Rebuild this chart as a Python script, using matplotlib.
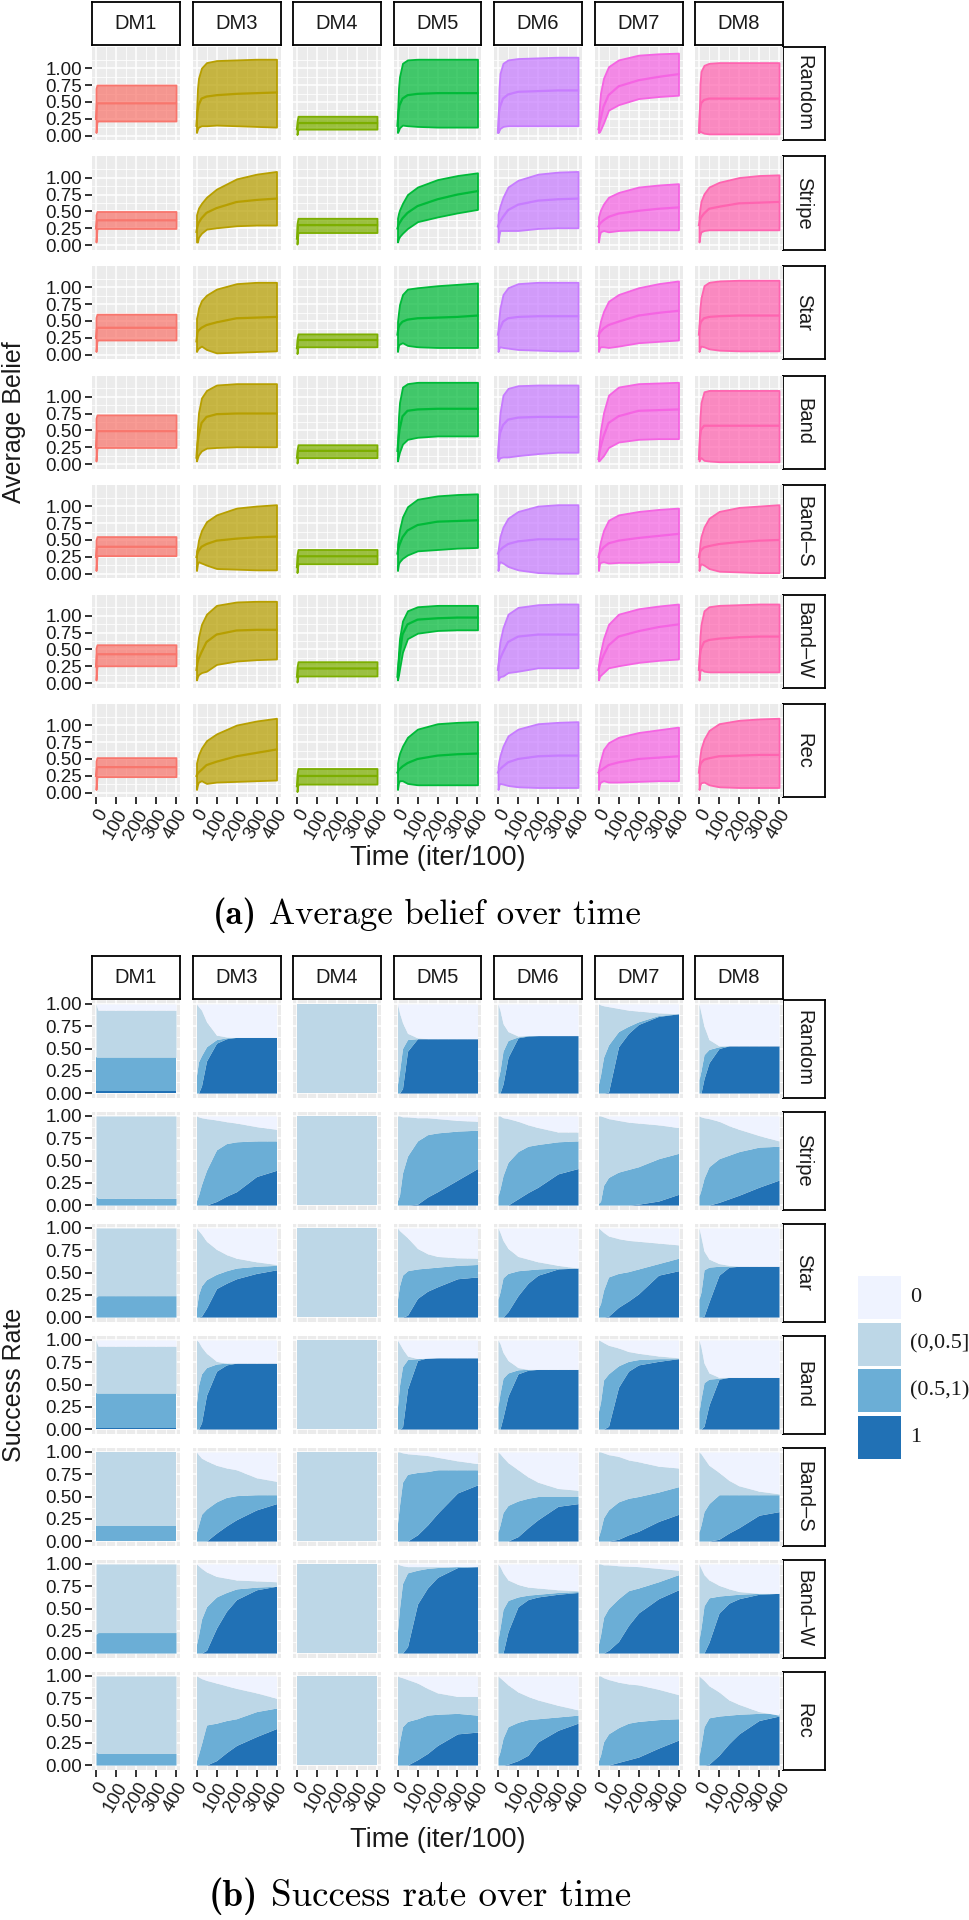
import matplotlib.pyplot as plt
from matplotlib.colors import to_rgba
from matplotlib.patches import Rectangle
from matplotlib.ticker import FixedLocator

plt.rcParams['font.family'] = ['Liberation Sans', 'DejaVu Sans']

dms = ['DM1', 'DM3', 'DM4', 'DM5', 'DM6', 'DM7', 'DM8']
topologies = ['Random', 'Stripe', 'Star', 'Band', 'Band\u2013S', 'Band\u2013W', 'Rec']
dm_colors = ['#F8766D', '#B79F00', '#7CAE00', '#00BA38', '#C77CFF', '#F564E3', '#FF64B0']

# ---- (a) average belief: lower / mean / upper per topology row ----
belief_times = [0, 5, 10, 25, 50, 100, 200, 300, 400]

dm1_lo = [[0.05, 0.22, 0.22, 0.22, 0.22, 0.22, 0.22, 0.22, 0.22],
          [0.05, 0.25, 0.25, 0.25, 0.25, 0.25, 0.25, 0.25, 0.25],
          [0.05, 0.22, 0.22, 0.22, 0.22, 0.22, 0.22, 0.22, 0.22],
          [0.05, 0.25, 0.25, 0.25, 0.25, 0.25, 0.25, 0.25, 0.25],
          [0.05, 0.27, 0.27, 0.27, 0.27, 0.27, 0.27, 0.27, 0.27],
          [0.05, 0.26, 0.26, 0.26, 0.26, 0.26, 0.26, 0.26, 0.26],
          [0.05, 0.24, 0.24, 0.24, 0.24, 0.24, 0.24, 0.24, 0.24]]
dm1_mean = [[0.25, 0.48, 0.48, 0.48, 0.48, 0.48, 0.48, 0.48, 0.48],
            [0.25, 0.37, 0.37, 0.37, 0.37, 0.37, 0.37, 0.37, 0.37],
            [0.25, 0.40, 0.40, 0.40, 0.40, 0.40, 0.40, 0.40, 0.40],
            [0.25, 0.49, 0.49, 0.49, 0.49, 0.49, 0.49, 0.49, 0.49],
            [0.25, 0.40, 0.40, 0.40, 0.40, 0.40, 0.40, 0.40, 0.40],
            [0.25, 0.43, 0.43, 0.43, 0.43, 0.43, 0.43, 0.43, 0.43],
            [0.25, 0.38, 0.38, 0.38, 0.38, 0.38, 0.38, 0.38, 0.38]]
dm1_hi = [[0.70, 0.75, 0.75, 0.75, 0.75, 0.75, 0.75, 0.75, 0.75],
          [0.45, 0.50, 0.50, 0.50, 0.50, 0.50, 0.50, 0.50, 0.50],
          [0.55, 0.60, 0.60, 0.60, 0.60, 0.60, 0.60, 0.60, 0.60],
          [0.68, 0.73, 0.73, 0.73, 0.73, 0.73, 0.73, 0.73, 0.73],
          [0.50, 0.55, 0.55, 0.55, 0.55, 0.55, 0.55, 0.55, 0.55],
          [0.52, 0.57, 0.57, 0.57, 0.57, 0.57, 0.57, 0.57, 0.57],
          [0.47, 0.52, 0.52, 0.52, 0.52, 0.52, 0.52, 0.52, 0.52]]

dm3_lo = [[0.05, 0.10, 0.13, 0.15, 0.15, 0.16, 0.15, 0.14, 0.13],
          [0.05, 0.05, 0.12, 0.18, 0.24, 0.26, 0.29, 0.30, 0.30],
          [0.05, 0.08, 0.10, 0.13, 0.08, 0.03, 0.04, 0.05, 0.06],
          [0.05, 0.10, 0.14, 0.20, 0.24, 0.25, 0.26, 0.26, 0.26],
          [0.05, 0.15, 0.18, 0.16, 0.13, 0.08, 0.07, 0.06, 0.06],
          [0.05, 0.10, 0.13, 0.16, 0.18, 0.28, 0.33, 0.35, 0.36],
          [0.05, 0.12, 0.16, 0.18, 0.14, 0.16, 0.17, 0.18, 0.19]]
dm3_mean = [[0.15, 0.35, 0.45, 0.55, 0.58, 0.60, 0.62, 0.63, 0.64],
            [0.20, 0.28, 0.33, 0.40, 0.48, 0.55, 0.64, 0.67, 0.69],
            [0.20, 0.33, 0.36, 0.40, 0.44, 0.48, 0.54, 0.55, 0.56],
            [0.10, 0.30, 0.41, 0.61, 0.70, 0.74, 0.75, 0.75, 0.75],
            [0.25, 0.30, 0.34, 0.40, 0.44, 0.49, 0.52, 0.54, 0.55],
            [0.20, 0.30, 0.36, 0.46, 0.61, 0.72, 0.78, 0.79, 0.79],
            [0.25, 0.28, 0.30, 0.34, 0.41, 0.46, 0.54, 0.59, 0.64]]
dm3_hi = [[0.35, 0.70, 0.85, 1.00, 1.08, 1.11, 1.12, 1.13, 1.13],
          [0.45, 0.50, 0.55, 0.62, 0.71, 0.83, 0.98, 1.05, 1.09],
          [0.54, 0.60, 0.69, 0.80, 0.88, 0.97, 1.05, 1.07, 1.07],
          [0.15, 0.55, 0.76, 0.98, 1.09, 1.17, 1.19, 1.19, 1.19],
          [0.34, 0.40, 0.50, 0.64, 0.77, 0.87, 0.97, 1.00, 1.02],
          [0.41, 0.55, 0.68, 0.87, 1.02, 1.15, 1.20, 1.21, 1.21],
          [0.44, 0.50, 0.56, 0.66, 0.77, 0.87, 1.00, 1.06, 1.10]]

dm4_lo = [[0.02, 0.10, 0.10, 0.10, 0.10, 0.10, 0.10, 0.10, 0.10],
          [0.02, 0.19, 0.19, 0.19, 0.19, 0.19, 0.19, 0.19, 0.19],
          [0.02, 0.12, 0.12, 0.12, 0.12, 0.12, 0.12, 0.12, 0.12],
          [0.02, 0.10, 0.10, 0.10, 0.10, 0.10, 0.10, 0.10, 0.10],
          [0.02, 0.15, 0.15, 0.15, 0.15, 0.15, 0.15, 0.15, 0.15],
          [0.02, 0.11, 0.11, 0.11, 0.11, 0.11, 0.11, 0.11, 0.11],
          [0.02, 0.13, 0.13, 0.13, 0.13, 0.13, 0.13, 0.13, 0.13]]
dm4_mean = [[0.10, 0.19, 0.19, 0.19, 0.19, 0.19, 0.19, 0.19, 0.19],
            [0.10, 0.30, 0.30, 0.30, 0.30, 0.30, 0.30, 0.30, 0.30],
            [0.10, 0.22, 0.22, 0.22, 0.22, 0.22, 0.22, 0.22, 0.22],
            [0.10, 0.20, 0.20, 0.20, 0.20, 0.20, 0.20, 0.20, 0.20],
            [0.10, 0.26, 0.26, 0.26, 0.26, 0.26, 0.26, 0.26, 0.26],
            [0.10, 0.22, 0.22, 0.22, 0.22, 0.22, 0.22, 0.22, 0.22],
            [0.10, 0.25, 0.25, 0.25, 0.25, 0.25, 0.25, 0.25, 0.25]]
dm4_hi = [[0.21, 0.29, 0.29, 0.29, 0.29, 0.29, 0.29, 0.29, 0.29],
          [0.32, 0.40, 0.40, 0.40, 0.40, 0.40, 0.40, 0.40, 0.40],
          [0.23, 0.31, 0.31, 0.31, 0.31, 0.31, 0.31, 0.31, 0.31],
          [0.21, 0.29, 0.29, 0.29, 0.29, 0.29, 0.29, 0.29, 0.29],
          [0.28, 0.36, 0.36, 0.36, 0.36, 0.36, 0.36, 0.36, 0.36],
          [0.24, 0.32, 0.32, 0.32, 0.32, 0.32, 0.32, 0.32, 0.32],
          [0.28, 0.36, 0.36, 0.36, 0.36, 0.36, 0.36, 0.36, 0.36]]

dm5_lo = [[0.05, 0.08, 0.12, 0.16, 0.15, 0.14, 0.13, 0.13, 0.13],
          [0.05, 0.10, 0.13, 0.18, 0.25, 0.35, 0.42, 0.48, 0.53],
          [0.05, 0.14, 0.16, 0.18, 0.14, 0.12, 0.11, 0.11, 0.11],
          [0.05, 0.12, 0.18, 0.30, 0.37, 0.40, 0.42, 0.42, 0.42],
          [0.05, 0.15, 0.18, 0.23, 0.28, 0.34, 0.36, 0.38, 0.39],
          [0.05, 0.12, 0.21, 0.46, 0.66, 0.74, 0.78, 0.79, 0.79],
          [0.05, 0.15, 0.18, 0.18, 0.14, 0.12, 0.12, 0.12, 0.12]]
dm5_mean = [[0.15, 0.35, 0.45, 0.55, 0.60, 0.62, 0.63, 0.63, 0.63],
            [0.25, 0.30, 0.33, 0.40, 0.48, 0.58, 0.68, 0.75, 0.80],
            [0.30, 0.40, 0.44, 0.49, 0.52, 0.54, 0.55, 0.56, 0.58],
            [0.20, 0.38, 0.51, 0.71, 0.79, 0.81, 0.82, 0.82, 0.82],
            [0.30, 0.38, 0.43, 0.54, 0.64, 0.72, 0.77, 0.78, 0.79],
            [0.10, 0.28, 0.41, 0.72, 0.87, 0.94, 0.96, 0.97, 0.97],
            [0.30, 0.33, 0.35, 0.39, 0.44, 0.50, 0.55, 0.57, 0.58]]
dm5_hi = [[0.30, 0.70, 0.87, 1.07, 1.12, 1.13, 1.13, 1.13, 1.13],
          [0.40, 0.47, 0.52, 0.62, 0.75, 0.86, 0.97, 1.03, 1.07],
          [0.49, 0.62, 0.74, 0.89, 0.97, 0.99, 1.02, 1.04, 1.06],
          [0.30, 0.70, 0.91, 1.14, 1.19, 1.21, 1.21, 1.21, 1.21],
          [0.44, 0.55, 0.65, 0.84, 0.99, 1.10, 1.15, 1.17, 1.18],
          [0.16, 0.45, 0.66, 0.92, 1.07, 1.13, 1.15, 1.15, 1.15],
          [0.44, 0.52, 0.58, 0.69, 0.82, 0.94, 1.02, 1.04, 1.05]]

dm6_lo = [[0.05, 0.08, 0.11, 0.14, 0.15, 0.15, 0.15, 0.15, 0.15],
          [0.05, 0.15, 0.22, 0.22, 0.22, 0.22, 0.25, 0.26, 0.26],
          [0.05, 0.10, 0.12, 0.11, 0.10, 0.08, 0.07, 0.06, 0.06],
          [0.05, 0.08, 0.10, 0.11, 0.11, 0.13, 0.16, 0.18, 0.18],
          [0.05, 0.15, 0.18, 0.16, 0.11, 0.06, 0.02, 0.01, 0.01],
          [0.05, 0.08, 0.10, 0.11, 0.16, 0.18, 0.23, 0.23, 0.23],
          [0.05, 0.12, 0.14, 0.13, 0.11, 0.09, 0.08, 0.08, 0.08]]
dm6_mean = [[0.05, 0.35, 0.43, 0.55, 0.61, 0.65, 0.66, 0.67, 0.67],
            [0.28, 0.32, 0.35, 0.42, 0.52, 0.60, 0.66, 0.68, 0.69],
            [0.30, 0.36, 0.39, 0.49, 0.54, 0.56, 0.57, 0.57, 0.57],
            [0.10, 0.35, 0.46, 0.58, 0.66, 0.69, 0.70, 0.70, 0.70],
            [0.30, 0.33, 0.35, 0.39, 0.44, 0.48, 0.51, 0.51, 0.51],
            [0.20, 0.30, 0.36, 0.46, 0.61, 0.69, 0.72, 0.72, 0.72],
            [0.30, 0.33, 0.35, 0.39, 0.45, 0.50, 0.54, 0.55, 0.55]]
dm6_hi = [[0.05, 0.70, 0.92, 1.07, 1.12, 1.14, 1.15, 1.16, 1.16],
          [0.46, 0.52, 0.58, 0.71, 0.86, 0.96, 1.05, 1.08, 1.09],
          [0.39, 0.55, 0.69, 0.89, 0.99, 1.05, 1.07, 1.07, 1.07],
          [0.15, 0.55, 0.76, 1.02, 1.12, 1.16, 1.17, 1.17, 1.17],
          [0.34, 0.45, 0.55, 0.69, 0.82, 0.92, 1.00, 1.02, 1.02],
          [0.26, 0.50, 0.62, 0.82, 1.02, 1.12, 1.16, 1.17, 1.17],
          [0.39, 0.48, 0.55, 0.69, 0.84, 0.94, 1.02, 1.04, 1.05]]

dm7_lo = [[0.05, 0.06, 0.09, 0.19, 0.38, 0.46, 0.55, 0.58, 0.60],
          [0.05, 0.15, 0.20, 0.22, 0.20, 0.22, 0.23, 0.23, 0.23],
          [0.05, 0.10, 0.12, 0.12, 0.11, 0.13, 0.18, 0.20, 0.22],
          [0.05, 0.06, 0.08, 0.13, 0.25, 0.33, 0.37, 0.38, 0.38],
          [0.05, 0.15, 0.17, 0.18, 0.16, 0.17, 0.17, 0.18, 0.18],
          [0.05, 0.10, 0.12, 0.16, 0.23, 0.26, 0.31, 0.34, 0.36],
          [0.05, 0.13, 0.16, 0.18, 0.16, 0.16, 0.17, 0.18, 0.18]]
dm7_mean = [[0.10, 0.18, 0.24, 0.43, 0.60, 0.73, 0.82, 0.87, 0.91],
            [0.28, 0.31, 0.33, 0.37, 0.42, 0.47, 0.51, 0.54, 0.56],
            [0.28, 0.32, 0.34, 0.39, 0.44, 0.49, 0.58, 0.62, 0.65],
            [0.08, 0.18, 0.25, 0.41, 0.61, 0.71, 0.79, 0.80, 0.81],
            [0.25, 0.30, 0.33, 0.39, 0.45, 0.49, 0.53, 0.56, 0.59],
            [0.20, 0.26, 0.30, 0.41, 0.56, 0.69, 0.77, 0.83, 0.87],
            [0.30, 0.32, 0.33, 0.36, 0.41, 0.45, 0.50, 0.52, 0.54]]
dm7_hi = [[0.19, 0.45, 0.63, 0.85, 1.02, 1.12, 1.19, 1.21, 1.22],
          [0.42, 0.47, 0.52, 0.61, 0.71, 0.78, 0.86, 0.89, 0.91],
          [0.34, 0.42, 0.50, 0.64, 0.79, 0.89, 0.99, 1.05, 1.09],
          [0.10, 0.35, 0.50, 0.76, 1.02, 1.14, 1.19, 1.20, 1.21],
          [0.28, 0.40, 0.48, 0.64, 0.79, 0.87, 0.92, 0.95, 0.97],
          [0.26, 0.38, 0.46, 0.66, 0.87, 1.02, 1.10, 1.14, 1.17],
          [0.34, 0.42, 0.48, 0.64, 0.74, 0.82, 0.89, 0.93, 0.97]]

dm8_lo = [[0.05, 0.07, 0.06, 0.04, 0.03, 0.03, 0.03, 0.03, 0.03],
          [0.05, 0.15, 0.20, 0.22, 0.23, 0.23, 0.23, 0.23, 0.23],
          [0.05, 0.10, 0.13, 0.12, 0.09, 0.07, 0.06, 0.06, 0.06],
          [0.05, 0.08, 0.10, 0.06, 0.05, 0.04, 0.04, 0.04, 0.04],
          [0.05, 0.12, 0.15, 0.13, 0.08, 0.04, 0.03, 0.02, 0.02],
          [0.05, 0.18, 0.21, 0.18, 0.17, 0.17, 0.17, 0.17, 0.17],
          [0.05, 0.12, 0.15, 0.16, 0.12, 0.09, 0.08, 0.08, 0.08]]
dm8_mean = [[0.05, 0.38, 0.48, 0.53, 0.55, 0.55, 0.55, 0.55, 0.55],
            [0.30, 0.37, 0.41, 0.47, 0.54, 0.57, 0.62, 0.63, 0.64],
            [0.30, 0.44, 0.49, 0.54, 0.56, 0.57, 0.58, 0.58, 0.58],
            [0.08, 0.40, 0.51, 0.57, 0.57, 0.57, 0.57, 0.57, 0.57],
            [0.25, 0.32, 0.35, 0.39, 0.41, 0.44, 0.47, 0.49, 0.50],
            [0.20, 0.42, 0.51, 0.61, 0.64, 0.66, 0.68, 0.69, 0.69],
            [0.30, 0.40, 0.44, 0.49, 0.51, 0.54, 0.55, 0.56, 0.56]]
dm8_hi = [[0.06, 0.77, 0.95, 1.04, 1.07, 1.08, 1.08, 1.08, 1.08],
          [0.42, 0.55, 0.65, 0.76, 0.86, 0.93, 1.00, 1.03, 1.04],
          [0.44, 0.70, 0.84, 1.02, 1.07, 1.09, 1.10, 1.10, 1.10],
          [0.10, 0.70, 0.91, 1.07, 1.09, 1.09, 1.09, 1.09, 1.09],
          [0.28, 0.45, 0.55, 0.69, 0.82, 0.92, 0.98, 1.00, 1.02],
          [0.26, 0.70, 0.87, 1.07, 1.13, 1.15, 1.16, 1.17, 1.17],
          [0.39, 0.55, 0.65, 0.79, 0.92, 1.02, 1.07, 1.09, 1.10]]

belief_lo = [dm1_lo, dm3_lo, dm4_lo, dm5_lo, dm6_lo, dm7_lo, dm8_lo]
belief_mean = [dm1_mean, dm3_mean, dm4_mean, dm5_mean, dm6_mean, dm7_mean, dm8_mean]
belief_hi = [dm1_hi, dm3_hi, dm4_hi, dm5_hi, dm6_hi, dm7_hi, dm8_hi]

# ---- (b) success rate: cumulative tops of "1", "(0.5,1)", "(0,0.5]" ----
success_times = [0, 10, 25, 50, 100, 150, 200, 300, 400]
success_labels = ['0', '(0,0.5]', '(0.5,1)', '1']
success_colors = ['#EFF3FF', '#BDD7E7', '#6BAED6', '#2171B5']

dm1_c1 = [[0.02] * 9, [0.0] * 9, [0.0] * 9, [0.01] * 9, [0.0] * 9, [0.0] * 9, [0.0] * 9]
dm1_c2 = [[0.40] * 9,
          [0.10, 0.075, 0.075, 0.075, 0.075, 0.075, 0.075, 0.075, 0.075],
          [0.22, 0.24, 0.24, 0.24, 0.24, 0.24, 0.24, 0.24, 0.24],
          [0.40] * 9,
          [0.17] * 9,
          [0.21, 0.23, 0.23, 0.23, 0.23, 0.23, 0.23, 0.23, 0.23],
          [0.15, 0.13, 0.13, 0.13, 0.13, 0.13, 0.13, 0.13, 0.13]]
dm1_c3 = [[1.0, 0.93, 0.93, 0.93, 0.93, 0.93, 0.93, 0.93, 0.93],
          [1.0] * 9, [1.0] * 9,
          [1.0, 0.93, 0.93, 0.93, 0.93, 0.93, 0.93, 0.93, 0.93],
          [1.0] * 9, [1.0] * 9, [1.0] * 9]

dm3_c1 = [[0, 0, 0.08, 0.36, 0.56, 0.61, 0.625, 0.625, 0.625],
          [0, 0, 0, 0, 0.04, 0.10, 0.15, 0.32, 0.39],
          [0, 0, 0.01, 0.10, 0.32, 0.38, 0.43, 0.49, 0.53],
          [0, 0, 0.07, 0.38, 0.65, 0.72, 0.74, 0.74, 0.74],
          [0, 0, 0, 0, 0.09, 0.17, 0.24, 0.35, 0.42],
          [0, 0, 0, 0.03, 0.28, 0.47, 0.60, 0.71, 0.75],
          [0, 0, 0, 0, 0.05, 0.14, 0.22, 0.32, 0.41]]
dm3_c2 = [[0.20, 0.35, 0.42, 0.52, 0.60, 0.62, 0.625, 0.625, 0.625],
          [0.05, 0.11, 0.23, 0.39, 0.62, 0.69, 0.71, 0.72, 0.72],
          [0.10, 0.25, 0.35, 0.42, 0.48, 0.52, 0.55, 0.57, 0.58],
          [0.30, 0.49, 0.62, 0.69, 0.73, 0.74, 0.74, 0.74, 0.74],
          [0.10, 0.18, 0.30, 0.36, 0.44, 0.49, 0.51, 0.52, 0.52],
          [0.10, 0.20, 0.38, 0.52, 0.63, 0.68, 0.72, 0.74, 0.75],
          [0.05, 0.12, 0.24, 0.45, 0.47, 0.50, 0.52, 0.60, 0.64]]
dm3_c3 = [[1.0, 0.97, 0.93, 0.80, 0.65, 0.63, 0.625, 0.625, 0.625],
          [1.0, 0.99, 0.98, 0.97, 0.955, 0.935, 0.92, 0.88, 0.85],
          [1.0, 0.97, 0.93, 0.85, 0.76, 0.70, 0.66, 0.62, 0.59],
          [1.0, 0.98, 0.92, 0.85, 0.76, 0.74, 0.74, 0.74, 0.74],
          [1.0, 0.97, 0.93, 0.90, 0.85, 0.82, 0.80, 0.71, 0.67],
          [1.0, 0.98, 0.95, 0.91, 0.86, 0.84, 0.82, 0.81, 0.80],
          [1.0, 0.99, 0.97, 0.95, 0.92, 0.89, 0.86, 0.81, 0.75]]

dm4_c1 = [[0.0] * 9] * 7
dm4_c2 = [[0.0] * 9] * 7
dm4_c3 = [[1.0] * 9] * 7

dm5_c1 = [[0, 0, 0.05, 0.47, 0.61, 0.61, 0.61, 0.61, 0.61],
          [0, 0, 0, 0, 0.01, 0.09, 0.15, 0.28, 0.41],
          [0, 0, 0, 0.02, 0.21, 0.29, 0.34, 0.43, 0.45],
          [0, 0, 0.02, 0.45, 0.77, 0.80, 0.80, 0.80, 0.80],
          [0, 0, 0, 0, 0.07, 0.18, 0.31, 0.54, 0.63],
          [0, 0, 0, 0.07, 0.55, 0.73, 0.85, 0.96, 0.97],
          [0, 0, 0, 0, 0.06, 0.13, 0.22, 0.35, 0.37]]
dm5_c2 = [[0.10, 0.24, 0.50, 0.60, 0.61, 0.61, 0.61, 0.61, 0.61],
          [0.05, 0.11, 0.36, 0.55, 0.72, 0.79, 0.81, 0.83, 0.84],
          [0.20, 0.35, 0.47, 0.52, 0.54, 0.55, 0.56, 0.58, 0.59],
          [0.25, 0.49, 0.70, 0.78, 0.79, 0.80, 0.80, 0.80, 0.80],
          [0.20, 0.40, 0.66, 0.75, 0.77, 0.78, 0.80, 0.80, 0.80],
          [0.25, 0.50, 0.78, 0.90, 0.93, 0.95, 0.96, 0.97, 0.97],
          [0.10, 0.26, 0.43, 0.49, 0.52, 0.56, 0.57, 0.58, 0.56]]
dm5_c3 = [[1.0, 0.90, 0.79, 0.67, 0.62, 0.61, 0.61, 0.61, 0.61],
          [1.0, 1.0, 0.99, 0.99, 0.98, 0.98, 0.97, 0.95, 0.94],
          [1.0, 0.97, 0.94, 0.89, 0.77, 0.71, 0.68, 0.665, 0.66],
          [1.0, 0.96, 0.90, 0.82, 0.79, 0.795, 0.80, 0.80, 0.80],
          [1.0, 1.0, 0.99, 0.98, 0.97, 0.96, 0.94, 0.90, 0.87],
          [1.0, 0.99, 0.98, 0.97, 0.97, 0.97, 0.97, 0.97, 0.97],
          [1.0, 0.99, 0.98, 0.96, 0.92, 0.86, 0.81, 0.77, 0.77]]

dm6_c1 = [[0, 0, 0.10, 0.40, 0.62, 0.64, 0.645, 0.645, 0.645],
          [0, 0, 0, 0, 0.07, 0.14, 0.20, 0.35, 0.41],
          [0, 0, 0, 0.06, 0.24, 0.38, 0.47, 0.54, 0.55],
          [0, 0, 0.13, 0.37, 0.62, 0.66, 0.67, 0.67, 0.67],
          [0, 0, 0, 0, 0.05, 0.15, 0.24, 0.39, 0.42],
          [0, 0, 0, 0.24, 0.52, 0.60, 0.63, 0.66, 0.68],
          [0, 0, 0, 0.01, 0.05, 0.11, 0.26, 0.39, 0.47]]
dm6_c2 = [[0.15, 0.25, 0.47, 0.59, 0.63, 0.645, 0.645, 0.645, 0.645],
          [0.10, 0.18, 0.33, 0.48, 0.60, 0.66, 0.68, 0.71, 0.72],
          [0.20, 0.28, 0.44, 0.49, 0.52, 0.53, 0.54, 0.55, 0.55],
          [0.25, 0.40, 0.57, 0.63, 0.665, 0.67, 0.67, 0.67, 0.67],
          [0.10, 0.18, 0.32, 0.40, 0.45, 0.48, 0.50, 0.50, 0.50],
          [0.15, 0.28, 0.49, 0.59, 0.63, 0.65, 0.66, 0.68, 0.69],
          [0.08, 0.15, 0.30, 0.43, 0.48, 0.51, 0.52, 0.54, 0.56]]
dm6_c3 = [[1.0, 0.93, 0.78, 0.69, 0.64, 0.645, 0.645, 0.645, 0.645],
          [1.0, 1.0, 0.98, 0.97, 0.94, 0.90, 0.87, 0.82, 0.82],
          [1.0, 0.95, 0.86, 0.77, 0.68, 0.65, 0.62, 0.58, 0.55],
          [1.0, 0.96, 0.86, 0.77, 0.69, 0.67, 0.67, 0.67, 0.67],
          [1.0, 0.98, 0.94, 0.88, 0.80, 0.72, 0.66, 0.59, 0.57],
          [1.0, 0.97, 0.90, 0.82, 0.77, 0.74, 0.73, 0.71, 0.70],
          [1.0, 0.98, 0.95, 0.90, 0.82, 0.77, 0.73, 0.67, 0.62]]

dm7_c1 = [[0, 0, 0, 0.01, 0.52, 0.67, 0.77, 0.86, 0.89],
          [0, 0, 0, 0, 0, 0, 0.01, 0.045, 0.12],
          [0, 0, 0, 0.01, 0.11, 0.18, 0.26, 0.47, 0.52],
          [0, 0, 0, 0.03, 0.47, 0.65, 0.72, 0.76, 0.79],
          [0, 0, 0, 0, 0.02, 0.07, 0.11, 0.22, 0.30],
          [0, 0, 0, 0.03, 0.13, 0.31, 0.45, 0.61, 0.71],
          [0, 0, 0, 0, 0.03, 0.06, 0.09, 0.19, 0.28]]
dm7_c2 = [[0.10, 0.20, 0.40, 0.54, 0.69, 0.75, 0.80, 0.87, 0.89],
          [0.02, 0.04, 0.22, 0.31, 0.37, 0.40, 0.43, 0.52, 0.58],
          [0.10, 0.15, 0.30, 0.45, 0.49, 0.51, 0.54, 0.60, 0.66],
          [0.20, 0.30, 0.55, 0.62, 0.71, 0.76, 0.78, 0.79, 0.79],
          [0.05, 0.12, 0.26, 0.35, 0.44, 0.48, 0.50, 0.55, 0.61],
          [0.10, 0.20, 0.40, 0.50, 0.61, 0.70, 0.73, 0.80, 0.88],
          [0.05, 0.11, 0.26, 0.35, 0.42, 0.47, 0.49, 0.51, 0.52]]
dm7_c3 = [[1.0, 0.99, 0.98, 0.97, 0.95, 0.93, 0.92, 0.90, 0.89],
          [1.0, 1.0, 0.99, 0.97, 0.95, 0.93, 0.92, 0.90, 0.87],
          [1.0, 0.98, 0.95, 0.91, 0.88, 0.86, 0.85, 0.83, 0.81],
          [1.0, 0.99, 0.97, 0.94, 0.91, 0.87, 0.85, 0.82, 0.80],
          [1.0, 1.0, 0.99, 0.97, 0.95, 0.91, 0.89, 0.84, 0.82],
          [1.0, 1.0, 0.99, 0.99, 0.98, 0.975, 0.97, 0.95, 0.93],
          [1.0, 1.0, 0.98, 0.96, 0.93, 0.91, 0.90, 0.85, 0.79]]

dm8_c1 = [[0, 0, 0.16, 0.34, 0.50, 0.53, 0.53, 0.53, 0.53],
          [0, 0, 0, 0, 0.03, 0.07, 0.11, 0.20, 0.28],
          [0, 0, 0.01, 0.17, 0.47, 0.56, 0.57, 0.57, 0.57],
          [0, 0, 0.03, 0.27, 0.56, 0.58, 0.58, 0.58, 0.58],
          [0, 0, 0, 0, 0.02, 0.09, 0.15, 0.29, 0.33],
          [0, 0, 0, 0.12, 0.45, 0.56, 0.61, 0.66, 0.67],
          [0, 0, 0, 0.01, 0.11, 0.24, 0.35, 0.50, 0.55]]
dm8_c2 = [[0.15, 0.25, 0.43, 0.49, 0.52, 0.53, 0.53, 0.53, 0.53],
          [0.10, 0.17, 0.30, 0.43, 0.52, 0.56, 0.60, 0.65, 0.66],
          [0.20, 0.28, 0.53, 0.56, 0.57, 0.57, 0.57, 0.57, 0.57],
          [0.20, 0.34, 0.52, 0.56, 0.57, 0.58, 0.58, 0.58, 0.58],
          [0.10, 0.18, 0.33, 0.42, 0.52, 0.52, 0.52, 0.52, 0.52],
          [0.15, 0.28, 0.53, 0.62, 0.64, 0.65, 0.66, 0.67, 0.67],
          [0.10, 0.22, 0.43, 0.53, 0.55, 0.56, 0.57, 0.58, 0.58]]
dm8_c3 = [[1.0, 0.90, 0.75, 0.60, 0.53, 0.53, 0.53, 0.53, 0.53],
          [1.0, 0.99, 0.98, 0.97, 0.94, 0.89, 0.85, 0.78, 0.72],
          [1.0, 0.90, 0.74, 0.65, 0.60, 0.58, 0.57, 0.57, 0.57],
          [1.0, 0.92, 0.74, 0.63, 0.58, 0.58, 0.58, 0.58, 0.58],
          [1.0, 0.98, 0.93, 0.85, 0.77, 0.68, 0.62, 0.56, 0.53],
          [1.0, 0.95, 0.88, 0.82, 0.76, 0.72, 0.69, 0.67, 0.67],
          [1.0, 0.98, 0.95, 0.89, 0.82, 0.73, 0.68, 0.60, 0.56]]

success_c1 = [dm1_c1, dm3_c1, dm4_c1, dm5_c1, dm6_c1, dm7_c1, dm8_c1]
success_c2 = [dm1_c2, dm3_c2, dm4_c2, dm5_c2, dm6_c2, dm7_c2, dm8_c2]
success_c3 = [dm1_c3, dm3_c3, dm4_c3, dm5_c3, dm6_c3, dm7_c3, dm8_c3]

# ---- layout (pixels) ----
W, H = 969, 1920
fig = plt.figure(figsize=(W / 100, H / 100), dpi=100)
col_x = [92 + j * 100.5 for j in range(7)]
pw = 88
TXT = '#1a1a1a'


def px_axes(x, y, w, h):
    return fig.add_axes([x / W, 1 - (y + h) / H, w / W, h / H])


def strip(x, y, w, h, text, rot=0):
    ax = px_axes(x, y, w, h)
    ax.set_xticks([])
    ax.set_yticks([])
    for s in ax.spines.values():
        s.set_linewidth(1.3)
        s.set_color('black')
    ax.text(0.5, 0.5, text, ha='center', va='center', rotation=rot,
            fontsize=14.5, color=TXT, transform=ax.transAxes)


def facet(x, y, h, ylim, ymajor, yminor, left, bottom):
    ax = px_axes(x, y, pw, h)
    ax.set_facecolor('#EBEBEB')
    ax.set_xlim(-20, 420)
    ax.set_ylim(*ylim)
    ax.xaxis.set_major_locator(FixedLocator([0, 100, 200, 300, 400]))
    ax.xaxis.set_minor_locator(FixedLocator([50, 150, 250, 350]))
    ax.yaxis.set_major_locator(FixedLocator(ymajor))
    ax.yaxis.set_minor_locator(FixedLocator(yminor))
    ax.grid(which='major', color='white', lw=1.1)
    ax.grid(which='minor', color='white', lw=0.55)
    ax.set_axisbelow(True)
    for s in ax.spines.values():
        s.set_visible(False)
    ax.tick_params(which='both', length=0, labelbottom=False, labelleft=False)
    if left:
        ax.tick_params(axis='y', which='major', length=5, width=1.4, color='#333333',
                       labelleft=True, labelsize=13.5, labelcolor=TXT, pad=2)
        ax.set_yticklabels(['%.2f' % v for v in ymajor])
    if bottom:
        ax.tick_params(axis='x', which='major', length=5, width=1.4, color='#333333',
                       labelbottom=True, labelsize=13.5, labelcolor=TXT, pad=2)
        ax.set_xticklabels(['0', '100', '200', '300', '400'], rotation=60,
                           ha='right', va='top', rotation_mode='anchor')
    return ax


ymaj = [0, 0.25, 0.5, 0.75, 1.0]

# (a) average belief
top_y0, top_pitch, top_h = 47, 109.5, 93
for j, dm in enumerate(dms):
    strip(col_x[j], 2, pw, 43, dm)
for i, topo in enumerate(topologies):
    y = top_y0 + i * top_pitch
    strip(783, y, 42, top_h, topo, rot=-90)
    for j in range(7):
        ax = facet(col_x[j], y, top_h, (-0.06, 1.31), ymaj,
                   [0.125, 0.375, 0.625, 0.875, 1.125], j == 0, i == 6)
        c = dm_colors[j]
        ax.fill_between(belief_times, belief_lo[j][i], belief_hi[j][i],
                        facecolor=to_rgba(c, 0.72), edgecolor=c, lw=1.3, zorder=2)
        ax.plot(belief_times, belief_mean[j][i], color=c, lw=1.6, zorder=3)

fig.text(14 / W, 1 - 422 / H, 'Average Belief', rotation=90, ha='center', va='center',
         fontsize=18, color=TXT)
fig.text(437.5 / W, 1 - 858 / H, 'Time (iter/100)', ha='center', va='center',
         fontsize=19.5, color=TXT)

# (b) success rate
bot_y0, bot_pitch, bot_h = 999.5, 112, 98
for j, dm in enumerate(dms):
    strip(col_x[j], 956, pw, 43, dm)
for i, topo in enumerate(topologies):
    y = bot_y0 + i * bot_pitch
    strip(783, y, 42, bot_h, topo, rot=-90)
    for j in range(7):
        ax = facet(col_x[j], y, bot_h, (-0.05, 1.05), ymaj,
                   [0.125, 0.375, 0.625, 0.875], j == 0, i == 6)
        c1, c2, c3 = success_c1[j][i], success_c2[j][i], success_c3[j][i]
        ax.fill_between(success_times, 0, c1, color=success_colors[3], lw=0, zorder=2)
        ax.fill_between(success_times, c1, c2, color=success_colors[2], lw=0, zorder=2)
        ax.fill_between(success_times, c2, c3, color=success_colors[1], lw=0, zorder=2)
        ax.fill_between(success_times, c3, 1, color=success_colors[0], lw=0, zorder=2)

fig.text(14 / W, 1 - 1384.5 / H, 'Success Rate', rotation=90, ha='center', va='center',
         fontsize=18, color=TXT)
fig.text(437.5 / W, 1 - 1840 / H, 'Time (iter/100)', ha='center', va='center',
         fontsize=19.5, color=TXT)

# legend
for k, (lab, col) in enumerate(zip(success_labels, success_colors)):
    ky = 1276 + k * 46.5
    fig.add_artist(Rectangle((858 / W, 1 - (ky + 43) / H), 43 / W, 43 / H,
                             transform=fig.transFigure, facecolor=col, edgecolor='none'))
    fig.text(910 / W, 1 - (ky + 21.5) / H, lab, ha='left', va='center',
             fontsize=16, family='Liberation Serif', color=TXT)


# captions: bold tag + roman body, centred by measured width
def caption(xc, yc, tag, body, target_w):
    size = 20
    a = fig.text(0, 1 - yc / H, tag, family='cmb10', fontsize=size, va='baseline')
    b = fig.text(0, 1 - yc / H, body, family='cmr10', fontsize=size, va='baseline')
    r = fig.canvas.get_renderer()
    gap = 0.33 * size * 100 / 72
    total = a.get_window_extent(r).width + b.get_window_extent(r).width + gap
    size = size * target_w / total
    a.set_fontsize(size)
    b.set_fontsize(size)
    gap = 0.33 * size * 100 / 72
    wa = a.get_window_extent(r).width
    total = wa + b.get_window_extent(r).width + gap
    x0 = xc - total / 2
    a.set_x(x0 / W)
    b.set_x((x0 + wa + gap) / W)


caption(427, 924, '(a)', 'Average belief over time', 427)
caption(420, 1906, '(b)', 'Success rate over time', 421)

fig.savefig('out.png', dpi=100, facecolor='white')
